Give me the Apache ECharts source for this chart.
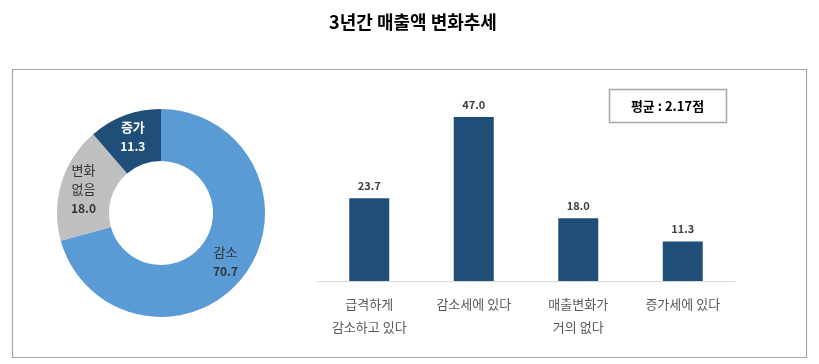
<!DOCTYPE html>
<html><head><meta charset="utf-8">
<script src="https://cdn.jsdelivr.net/npm/echarts@6/dist/echarts.min.js"></script>
<style>html,body{margin:0;padding:0;background:#fff}#c{width:819px;height:364px}</style>
</head><body><div id="c"></div>
<script>
const titleText = '3년간 매출액 변화추세';
const pieNames = ['감소', '변화\n없음', '증가'];
const pieValues = [70.7, 18.0, 11.3];
const pieColors = ['#5B9BD5', '#BFBFBF', '#1F4E79'];
const barCategories = ['급격하게\n감소하고 있다', '감소세에 있다', '매출변화가\n거의 없다', '증가세에 있다'];
const barValues = [23.7, 47.0, 18.0, 11.3];
const avgText = '평균 : 2.17점';

const FONT = '"Noto Sans CJK KR", "Noto Sans", sans-serif';
const chart = echarts.init(document.getElementById('c'), null, {renderer: 'canvas'});
chart.setOption({
  backgroundColor: '#fff',
  animation: false,
  textStyle: {fontFamily: FONT},
  title: {
    text: titleText, left: 408, top: 8, textAlign: 'center',
    textStyle: {fontFamily: FONT, fontSize: 18, fontWeight: 'bold', color: '#000'}
  },
  graphic: [
    {type: 'rect', z: -1, shape: {x: 12.5, y: 69.5, width: 794, height: 288},
     style: {fill: 'none', stroke: '#A6A6A6', lineWidth: 1.2}},
    {type: 'rect', shape: {x: 609.5, y: 89.5, width: 117, height: 33},
     style: {fill: '#fff', stroke: '#A6A6A6', lineWidth: 1.5}},
    {type: 'text', x: 667.5, y: 106, style: {text: avgText, align: 'center', verticalAlign: 'middle',
      font: 'bold 13px ' + FONT, fill: '#000'}}
  ],
  grid: {left: 317, right: 84, top: 106.55, bottom: 83, containLabel: false},
  xAxis: {
    type: 'category', data: barCategories,
    axisLine: {show: true, lineStyle: {color: '#D9D9D9', width: 1}},
    axisTick: {show: false},
    axisLabel: {color: '#595959', fontSize: 13, lineHeight: 23, margin: 12, fontFamily: FONT, interval: 0}
  },
  yAxis: {type: 'value', min: 0, max: 50, show: false, splitLine: {show: false}},
  series: [
    {
      type: 'pie', radius: [52, 104], center: [161, 213], startAngle: 90, clockwise: true,
      data: pieNames.map((n, i) => ({name: n, value: pieValues[i], itemStyle: {color: pieColors[i]},
        label: {color: i === 2 ? '#fff' : '#333', fontWeight: i === 2 ? 'bold' : 'normal'}})),
      label: {
        show: true, position: 'inside', fontFamily: FONT, fontSize: 13, lineHeight: 19,
        formatter: p => p.name + '\n{b|' + p.value.toFixed(1) + '}',
        rich: {b: {fontWeight: 'bold', fontSize: 12, lineHeight: 19, fontFamily: FONT}}
      },
      labelLine: {show: false},
      itemStyle: {borderColor: '#fff', borderWidth: 0},
      emphasis: {disabled: true}
    },
    {
      type: 'bar', data: barValues, barWidth: 40,
      itemStyle: {color: '#1F4E79'},
      label: {show: true, position: 'top', distance: 7, fontSize: 11, fontWeight: 'bold', color: '#404040',
        fontFamily: FONT, formatter: p => p.value.toFixed(1)}
    }
  ]
});
</script></body></html>
